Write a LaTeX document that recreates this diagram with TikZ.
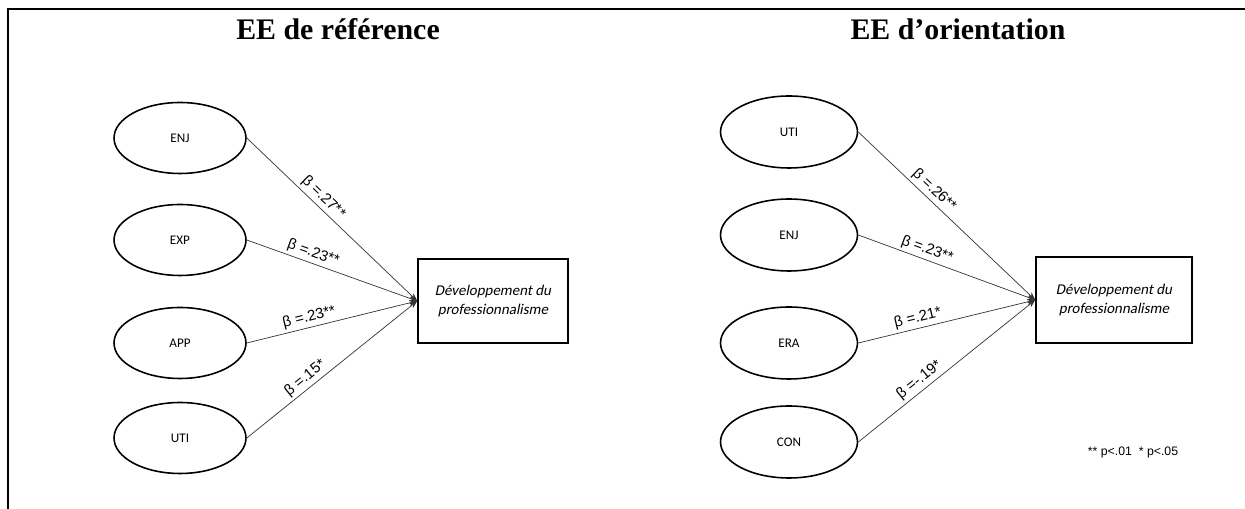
\documentclass[tikz,border=0pt]{standalone}
\usepackage{fontspec}
\setmainfont{Liberation Serif}
\newfontfamily\calibri{Carlito}[AutoFakeSlant=0.2]
\newfontfamily\arialfont{Liberation Sans}
\usepackage{tikz}
\usetikzlibrary{arrows.meta,positioning,shapes.geometric}
\tikzset{
  latent/.style={draw, ellipse, line width=0.9pt, minimum width=2.64cm,
                 minimum height=1.42cm, inner sep=0pt,
                 font=\calibri\fontsize{7.5}{9}\selectfont},
  outcome/.style={draw, line width=0.9pt, minimum width=3.0cm,
                  minimum height=1.68cm, align=center,
                  font=\calibri\itshape\fontsize{8.5}{11}\selectfont},
  title/.style={font=\bfseries\fontsize{17}{20}\selectfont},
  path/.style={-{Stealth[length=1.6mm,width=1.2mm]}, line width=0.4pt,
               draw=black!80},
  coef/.style={sloped, above, inner sep=1.5pt,
               font=\arialfont\fontsize{8.5}{10}\selectfont},
  note/.style={font=\arialfont\fontsize{7}{9}\selectfont},
  frame/.style={line width=1.1pt},
}
\begin{document}
\begin{tikzpicture}[x=0.02cm, y=-0.02cm]
    \useasboundingbox (0,0) rectangle (1245,509);
    \draw[frame] (8,509) -- (8,9) -- (1245,9);

    % EE de reference
    \node[title] (titleA) at (338,29) {EE de référence};
    \node[latent] (enjA) at (180,138) {ENJ};
    \node[latent] (expA) at (180,240) {EXP};
    \node[latent] (appA) at (180,343) {APP};
    \node[latent] (utiA) at (180,438) {UTI};
    \node[outcome] (devA) at (493,301) {Développement du\\professionnalisme};

    \draw[path] (enjA.east) -- node[coef, pos=.41] {β =.27**} (devA.west);
    \draw[path] (expA.east) -- node[coef, pos=.37] {β =.23**} (devA.west);
    \draw[path] (appA.east) -- node[coef, pos=.38] {β =.23**} (devA.west);
    \draw[path] (utiA.east) -- node[coef, pos=.38] {β =.15*} (devA.west);

    % EE d'orientation
    \node[title] (titleB) at (958,29) {EE d’orientation};
    \node[latent, minimum width=2.74cm, minimum height=1.44cm] (utiB) at (789,132) {UTI};
    \node[latent, minimum width=2.74cm, minimum height=1.44cm] (enjB) at (789,235) {ENJ};
    \node[latent, minimum width=2.74cm, minimum height=1.44cm] (eraB) at (789,343) {ERA};
    \node[latent, minimum width=2.74cm, minimum height=1.44cm] (conB) at (789,442) {CON};
    \node[outcome, minimum width=3.12cm, minimum height=1.72cm] (devB) at (1114,300)
        {Développement du\\professionnalisme};

    \draw[path] (utiB.east) -- node[coef, pos=.39] {β =.26**} (devB.west);
    \draw[path] (enjB.east) -- node[coef, pos=.37] {β =.23**} (devB.west);
    \draw[path] (eraB.east) -- node[coef, pos=.35] {β =.21*} (devB.west);
    \draw[path] (conB.east) -- node[coef, pos=.38] {β =-.19*} (devB.west);

    \node[note] (sig) at (1133,452) {** p<.01 \ * p<.05};
  \end{tikzpicture}
\end{document}
